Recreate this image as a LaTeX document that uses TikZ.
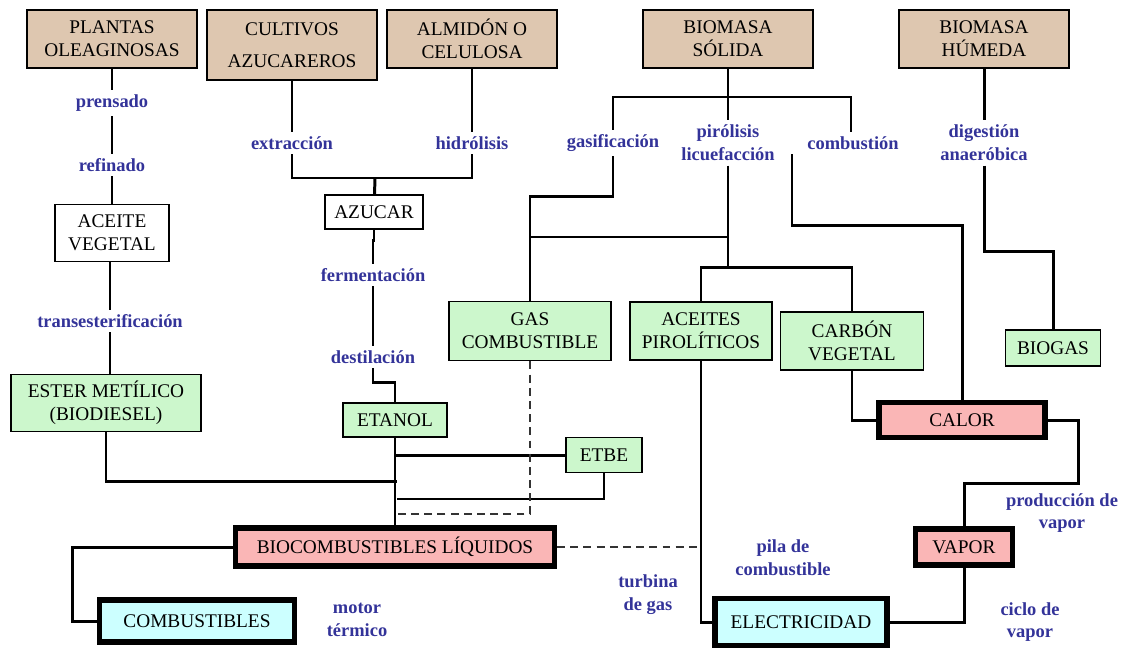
\documentclass[tikz,border=0pt]{standalone}
\usepackage{fontspec}
\setmainfont{Liberation Serif}
\usepackage{tikz}
\usetikzlibrary{positioning}
\definecolor{rawtan}{RGB}{222,199,176}
\definecolor{prodgreen}{RGB}{204,247,204}
\definecolor{endpink}{RGB}{250,182,182}
\definecolor{usecyan}{RGB}{204,255,255}
\definecolor{stageblue}{RGB}{51,51,153}
\newcommand{\mapboxfont}{\fontsize{11}{13}\selectfont}
\newcommand{\mapstagefont}{\bfseries\fontsize{10.5}{13}\selectfont}
\tikzstyle{source} = [rectangle, minimum width=3.4cm, minimum height=1.16cm, align=center, draw=black, line width=1.1pt, fill=rawtan, font=\mapboxfont]
\tikzstyle{middle} = [rectangle, align=center, draw=black, line width=1.1pt, fill=white, font=\mapboxfont]
\tikzstyle{product} = [rectangle, align=center, draw=black, line width=1.1pt, fill=prodgreen, font=\mapboxfont]
\tikzstyle{final} = [rectangle, align=center, draw=black, line width=3pt, fill=endpink, font=\mapboxfont]
\tikzstyle{usage} = [rectangle, align=center, draw=black, line width=3pt, fill=usecyan, font=\mapboxfont]
\tikzstyle{stage} = [align=center, inner sep=2.5pt, text=stageblue, font=\mapstagefont]
\tikzstyle{line} = [line width=1.7pt]
\tikzstyle{thinline} = [line width=1.1pt]
\tikzstyle{dashline} = [line width=1.1pt, draw=black!80, dash pattern=on 4.5pt off 3pt]

\begin{document}
\begin{tikzpicture}[x=0.02cm, y=-0.02cm]
  \useasboundingbox (0,0) rectangle (1137,650);

  % raw materials
  \node (plantas) [source] at (112,39) {PLANTAS\\OLEAGINOSAS};
  \node (cultivos) [source, minimum height=1.4cm] at (292,45) {CULTIVOS\\[5pt]AZUCAREROS};
  \node (almidon) [source] at (472,39) {ALMIDÓN O\\CELULOSA};
  \node (solida) [source] at (728,39) {BIOMASA\\SÓLIDA};
  \node (humeda) [source] at (984,39) {BIOMASA\\HÚMEDA};

  % processes
  \node (prensado) [stage] at (112,103) {prensado};
  \node (refinado) [stage] at (112,165) {refinado};
  \node (transest) [stage] at (110,321) {transesterificación};
  \node (extraccion) [stage] at (292,143) {extracción};
  \node (hidrolisis) [stage] at (472,143) {hidrólisis};
  \node (ferment) [stage] at (373,275) {fermentación};
  \node (destil) [stage] at (373,357) {destilación};
  \node (gasif) [stage] at (613,143) {gasificación};
  \node (pirolisis) [stage] at (728,143) {pirólisis\\licuefacción};
  \node (combustion) [stage] at (853,143) {combustión};
  \node (digestion) [stage] at (984,143) {digestión\\anaeróbica};
  \node (motor) [stage] at (357,620) {motor\\térmico};
  \node (turbina) [stage] at (648,595) {turbina\\de gas};
  \node (pila) [stage] at (783,558) {pila de\\combustible};
  \node (prodvapor) [stage] at (1062,513) {producción de\\vapor};
  \node (ciclo) [stage] at (1030,622) {ciclo de\\vapor};

  % intermediate and products
  \node (aceite) [middle, minimum width=2.28cm, minimum height=1.14cm] at (112,233) {ACEITE\\VEGETAL};
  \node (azucar) [middle, minimum width=1.96cm, minimum height=0.68cm] at (374,212) {AZUCAR};
  \node (ester) [product, minimum width=3.8cm, minimum height=1.14cm] at (106,403) {ESTER METÍLICO\\(BIODIESEL)};
  \node (etanol) [product, minimum width=2.08cm, minimum height=0.68cm] at (395,420) {ETANOL};
  \node (etbe) [product, minimum width=1.52cm, minimum height=0.7cm] at (604,455) {ETBE};
  \node (gas) [product, minimum width=3.24cm, minimum height=1.18cm] at (530,331) {GAS\\COMBUSTIBLE};
  \node (pirol) [product, minimum width=2.84cm, minimum height=1.16cm] at (701,331) {ACEITES\\PIROLÍTICOS};
  \node (carbon) [product, minimum width=2.86cm, minimum height=1.16cm] at (852,341) {CARBÓN\\VEGETAL};
  \node (biogas) [product, minimum width=1.9cm, minimum height=0.72cm] at (1053,348) {BIOGAS};

  % final uses
  \node (biocomb) [final, minimum width=6.38cm, minimum height=0.76cm] at (395,547) {BIOCOMBUSTIBLES LÍQUIDOS};
  \node (calor) [final, minimum width=3.32cm, minimum height=0.7cm] at (962,420) {CALOR};
  \node (vapor) [final, minimum width=1.94cm, minimum height=0.72cm] at (964,547) {VAPOR};
  \node (combust) [usage, minimum width=3.9cm, minimum height=0.84cm] at (197,621) {COMBUSTIBLES};
  \node (electr) [usage, minimum width=3.44cm, minimum height=0.94cm] at (801,622) {ELECTRICIDAD};

  % junctions
  \coordinate (sugarjoin) at (375,178);
  \coordinate (dieseljoin) at (397,481);
  \coordinate (etbejoin) at (397,499);
  \coordinate (gasjoin) at (398,514);
  \coordinate (solidjoin) at (728,97);
  \coordinate (gasbend) at (613,196);
  \coordinate (gaslink) at (530,237);
  \coordinate (pyrojoin) at (728,267);
  \coordinate (heatbend) at (792,225);
  \coordinate (steambend) at (1078,483);
  \coordinate (biogasbend) at (984,251);

  % oil route
  \draw [line] (plantas) -- (prensado) -- (refinado) -- (aceite);
  \draw [line] (aceite.south -| transest) -- (transest) -- (transest |- ester.north);
  \draw [line] (ester.south) |- (dieseljoin);

  % sugar route
  \draw [line] (cultivos) -- (extraccion);
  \draw [line] (almidon) -- (hidrolisis);
  \draw [line] (extraccion.south) |- (sugarjoin) -| (hidrolisis.south);
  \draw [line] (sugarjoin) -- (azucar);
  \draw [line] (azucar.south) -- ++(0,11) -| (ferment.north);
  \draw [line] (ferment) -- (destil);
  \draw [line] (destil.south) -- ++(0,14) -| (etanol.north);
  \draw [line] (etanol) -- (biocomb);
  \draw [line] (etbe.west) -- (etbe.west -| etanol.south);
  \draw [thinline] (etbe.south) |- (etbejoin);
  \draw [dashline] (gas.south) |- (gasjoin);

  % solid biomass
  \draw [line] (solida) -- (solidjoin);
  \draw [thinline] (gasif.north) |- (solidjoin) -| (combustion.north -| 851,0);
  \draw [line] (solidjoin) -- (pirolisis);
  \draw [line] (gasif.south) -- (gasbend) -| (gas.north);
  \draw [thinline] (gaslink) -- (gaslink -| pyrojoin);
  \draw [line] (pirolisis) -- (pyrojoin);
  \draw [line] (pirol.north) |- (pyrojoin) -| (carbon.north);
  \draw [line] (heatbend |- combustion.south) -- (heatbend) -| (calor.north);
  \draw [line] (carbon.south) |- (calor.west);

  % heat, steam and power
  \draw [line] (calor.east) -| (steambend) -| (vapor.north);
  \draw [line] (vapor.south) |- (electr.east);
  \draw [line] (pirol.south) |- (electr.west);
  \draw [dashline] (biocomb.east) -- (biocomb.east -| pirol.south);
  \draw [line] (biocomb.west) -- ++(-160,0) |- (combust.west);

  % wet biomass
  \draw [line] (humeda) -- (digestion);
  \draw [line] (digestion.south) -- (biogasbend) -| (biogas.north);

\end{tikzpicture}
\end{document}
